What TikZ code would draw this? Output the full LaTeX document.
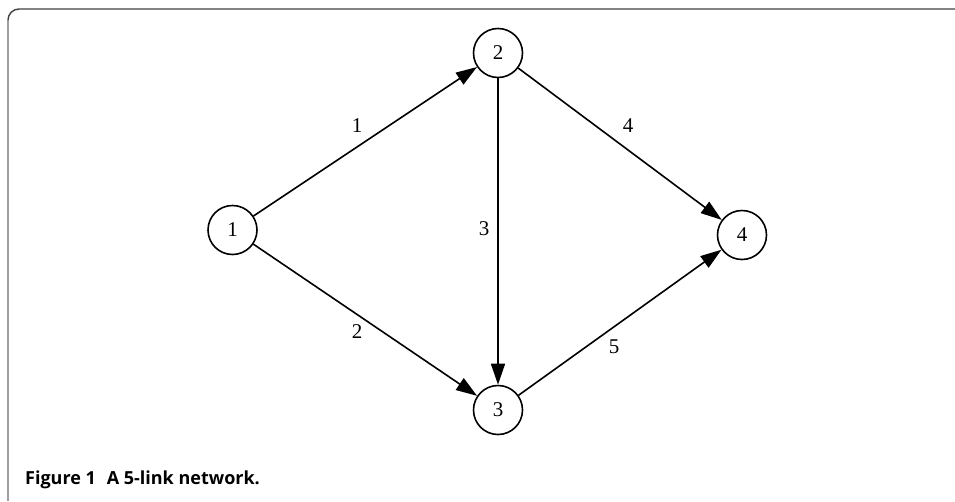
\documentclass[tikz,border=0pt]{standalone}
\usepackage{fontspec}
\setmainfont{Liberation Serif}
\newfontfamily\capfont{Open Sans}
\usetikzlibrary{arrows.meta}
\begin{document}
\begin{tikzpicture}[x=1pt,y=-1pt,
  vert/.style={circle,draw,line width=1.6pt,minimum size=49pt,inner sep=0pt,font=\fontsize{21}{23}\selectfont},
  edge/.style={line width=1.6pt,-{Triangle[length=21pt,width=14pt]}},
  elabel/.style={font=\fontsize{21}{23}\selectfont,inner sep=0pt}]
\useasboundingbox (0,0) rectangle (955,501);
\draw[line width=1.4pt,gray!75] (8,501) -- (8,20);
\draw[line width=1.4pt,black!75] (8,20) arc[start angle=180,end angle=270,radius=11] -- (955,9);
\node[vert] (n1) at (232.5,230) {1};
\node[vert] (n2) at (498,53) {2};
\node[vert] (n3) at (498,410) {3};
\node[vert] (n4) at (742,235) {4};
\draw[edge] (n1) -- (n2);
\draw[edge] (n1) -- (n3);
\draw[edge] (n2) -- (n3);
\draw[edge] (n2) -- (n4);
\draw[edge] (n3) -- (n4);
\node[elabel] (l1) at (357,126) {1};
\node[elabel] (l2) at (357,332) {2};
\node[elabel] (l3) at (484,229) {3};
\node[elabel] (l4) at (628,126) {4};
\node[elabel] (l5) at (614,347) {5};
\node[anchor=base west,inner sep=0pt,font=\capfont\bfseries\fontsize{18}{20}\selectfont] (cap) at (25,484) {Figure 1\hspace{0.6em}A 5-link network.};
\end{tikzpicture}
\end{document}
